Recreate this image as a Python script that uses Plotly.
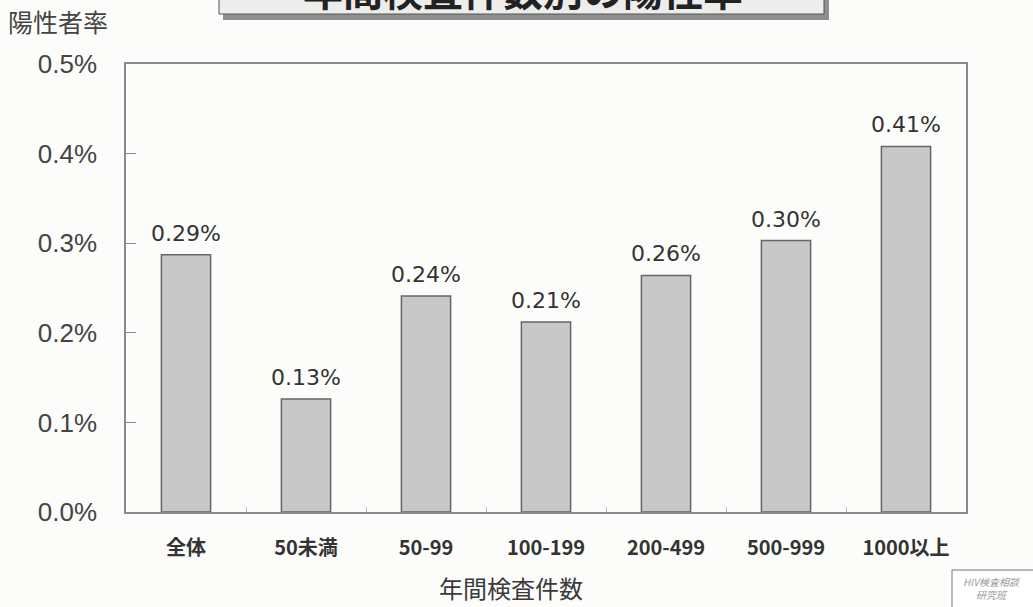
import plotly.graph_objects as go

categories = ["全体", "50未満", "50-99", "100-199", "200-499", "500-999", "1000以上"]
rates = [0.287, 0.126, 0.241, 0.212, 0.264, 0.303, 0.408]
rate_labels = ["0.29%", "0.13%", "0.24%", "0.21%", "0.26%", "0.30%", "0.41%"]
y_ticks = [0.0, 0.1, 0.2, 0.3, 0.4, 0.5]
y_tick_labels = ["0.0%", "0.1%", "0.2%", "0.3%", "0.4%", "0.5%"]

W, H = 1033, 607
L, R, T, B = 126, 1033 - 966, 64, 607 - 512
PW, PH = W - L - R, H - T - B


def px_x(x):
    return (x - L) / PW


def px_y(y):
    return (H - B - y) / PH


fig = go.Figure()
fig.add_trace(
    go.Bar(
        x=categories,
        y=rates,
        marker=dict(color="#c9c8c8", line=dict(color="#666666", width=1.5)),
        width=0.41,
        hoverinfo="skip",
    )
)
# value labels sit a little above each bar
fig.add_trace(
    go.Scatter(
        x=categories,
        y=rates,
        text=rate_labels,
        mode="markers+text",
        textposition="top center",
        marker=dict(size=12, color="rgba(0,0,0,0)"),
        textfont=dict(family="DejaVu Sans", size=22, color="#333333"),
        cliponaxis=False,
        hoverinfo="skip",
    )
)

fig.update_layout(
    width=W,
    height=H,
    margin=dict(l=L, r=R, t=T, b=B),
    paper_bgcolor="#fcfcfa",
    plot_bgcolor="#fcfcfa",
    showlegend=False,
    font=dict(family="Noto Sans CJK JP", color="#3a3a3a"),
    xaxis=dict(
        showline=True,
        linecolor="#8a8a8a",
        linewidth=1.5,
        mirror=True,
        showgrid=False,
        ticks="inside",
        tickson="boundaries",
        ticklen=5,
        tickcolor="#bbbbbb",
        ticklabelstandoff=17,
        tickfont=dict(family="Noto Sans CJK JP", size=20, color="#333333", weight="bold"),
    ),
    yaxis=dict(
        range=[0, 0.5],
        tickvals=y_ticks,
        ticktext=y_tick_labels,
        showline=True,
        linecolor="#8a8a8a",
        linewidth=1.5,
        mirror=True,
        showgrid=False,
        zeroline=False,
        ticks="inside",
        ticklen=10,
        tickcolor="#8a8a8a",
        ticklabelstandoff=22,
        tickfont=dict(family="Liberation Sans", size=26, color="#444444"),
    ),
    shapes=[
        # title box shadow
        dict(type="rect", xref="paper", yref="paper",
             x0=px_x(223), x1=px_x(829), y0=px_y(-12), y1=px_y(20),
             fillcolor="#8f8f8f", line=dict(width=0), layer="above"),
        # title box
        dict(type="rect", xref="paper", yref="paper",
             x0=px_x(219), x1=px_x(824), y0=px_y(-12), y1=px_y(14),
             fillcolor="#ededeb", line=dict(color="#555555", width=1), layer="above"),
        # logo box
        dict(type="rect", xref="paper", yref="paper",
             x0=px_x(952), x1=px_x(1040), y0=px_y(570), y1=px_y(612),
             fillcolor="#ffffff", line=dict(color="#777777", width=1), layer="above"),
    ],
    annotations=[
        dict(text="<b>年間検査件数別の陽性率</b>", xref="paper", yref="paper",
             x=px_x(523), y=px_y(-11), xanchor="center", yanchor="middle",
             showarrow=False,
             font=dict(family="Noto Sans CJK JP", size=40, color="#222222")),
        dict(text="陽性者率", xref="paper", yref="paper",
             x=px_x(6), y=px_y(21), xanchor="left", yanchor="middle",
             showarrow=False,
             font=dict(family="Noto Sans CJK JP", size=25, color="#444444")),
        dict(text="年間検査件数", xref="paper", yref="paper",
             x=px_x(511), y=px_y(587), xanchor="center", yanchor="middle",
             showarrow=False,
             font=dict(family="Noto Sans CJK JP", size=24, color="#3a3a3a")),
        dict(text="<i>HIV検査相談</i><br><i>研究班</i>", xref="paper", yref="paper",
             x=px_x(992), y=px_y(588), xanchor="center", yanchor="middle",
             showarrow=False,
             font=dict(family="Noto Sans CJK JP", size=10, color="#9a9a9a")),
    ],
)

# drop the page's default body margin so the figure fills the window exactly
fig.write_html(
    "out.html",
    config={"displayModeBar": False},
    post_script="document.body.style.margin='0';",
)
